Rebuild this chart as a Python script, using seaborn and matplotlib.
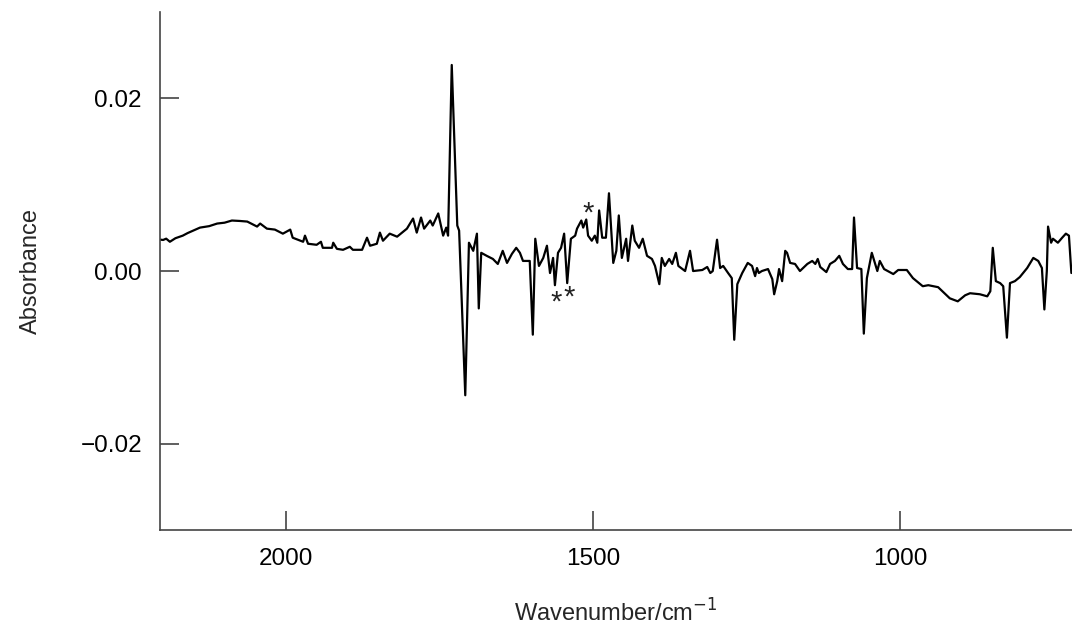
import matplotlib
matplotlib.use("Agg")
import matplotlib.pyplot as plt
import seaborn as sns
import pandas as pd

wavenumber = [2204, 2200, 2195, 2189, 2180, 2168, 2160, 2151, 2140, 2125, 2112, 2100, 2088, 2075,
              2063, 2047, 2042, 2031, 2018, 2005,
              1993, 1989, 1972, 1969, 1964, 1950, 1943, 1940, 1925, 1923, 1917, 1907, 1896, 1891,
              1876, 1868, 1863, 1852, 1847, 1842, 1831, 1819, 1803, 1793, 1787, 1780, 1775, 1765,
              1761, 1752, 1744, 1739, 1736, 1730, 1721, 1718, 1708, 1702, 1695, 1689, 1686, 1682,
              1673, 1663, 1655, 1647, 1640, 1632, 1625, 1619, 1614, 1603, 1598, 1594, 1588, 1581,
              1575, 1570, 1565, 1562, 1557, 1552, 1547, 1542, 1536, 1529, 1526, 1519, 1516, 1511,
              1508, 1502, 1497, 1493, 1490, 1485, 1479, 1474, 1467, 1462, 1458, 1453, 1446, 1443,
              1436, 1432, 1425, 1419, 1412, 1404, 1399, 1392, 1388, 1383, 1376, 1371, 1365, 1361,
              1350, 1342, 1337, 1322, 1314, 1309, 1305, 1298, 1293, 1288, 1280, 1274, 1270, 1265,
              1257, 1248, 1241, 1236, 1233, 1230, 1225, 1215, 1208, 1205, 1200, 1197, 1192, 1187,
              1184, 1179, 1171, 1163, 1151, 1143, 1138, 1134, 1130, 1120, 1114, 1106, 1099, 1093,
              1085, 1078, 1075, 1070, 1063, 1059, 1054, 1046, 1041, 1037, 1033, 1026, 1011, 1003,
              989, 979, 963, 954, 938, 919, 906, 894, 886, 870, 858, 853, 849, 844, 837, 832, 826,
              821, 813, 805, 793, 783, 775, 769, 765, 761, 759, 754, 751, 743, 736, 730, 725, 721]

absorbance = [0.00363, 0.0036, 0.00375, 0.00339, 0.0038, 0.0041, 0.0044, 0.00468, 0.00503, 0.0052,
              0.0055, 0.0056, 0.00585, 0.0058, 0.00573, 0.00515,
              0.0055, 0.00491, 0.0048, 0.00433, 0.0048, 0.00386, 0.00339, 0.0041, 0.00316, 0.00304,
              0.00339, 0.00269, 0.00269, 0.00328, 0.00257, 0.00246, 0.00281, 0.00246, 0.00246,
              0.00386, 0.00293, 0.00316, 0.00445, 0.00351, 0.00433, 0.00398, 0.00491, 0.00608,
              0.00445, 0.0062, 0.00491, 0.00585, 0.00527, 0.00667, 0.0041, 0.00503, 0.0041,
              0.02387, 0.00527, 0.00468, -0.01439, 0.00328, 0.00234, 0.00433, -0.00433, 0.00211,
              0.00176, 0.0014, 0.00082, 0.00234, 0.00094, 0.00199, 0.00269, 0.00211, 0.00117,
              0.00117, -0.00737, 0.00374, 0.00059, 0.00152, 0.00293, -0.00023, 0.00152, -0.00164,
              0.00211, 0.00269, 0.00433, -0.0014, 0.00374, 0.0041, 0.00491, 0.00585, 0.00503,
              0.00597, 0.0041, 0.00351, 0.0041, 0.00328, 0.00702, 0.00386, 0.00386, 0.00901,
              0.00094, 0.00234, 0.00644, 0.00152, 0.00374, 0.00117, 0.00527, 0.00351, 0.00269,
              0.00374, 0.00176, 0.0014, 0.00059, -0.00152, 0.00152, 0.00059, 0.0014, 0.00082,
              0.00211, 0.00059, 0.0, 0.00234, 0.0, 0.00012, 0.00047, -0.00023, 0.0, 0.00363,
              0.00035, 0.00059, -0.00023, -0.00082, -0.00796, -0.00152, -0.00023, 0.00094,
              0.00059, -0.00059, 0.00035, -0.00023, 0.0, 0.00023, -0.00094, -0.00269, -0.00117,
              0.00023, -0.00117, 0.00234, 0.00211, 0.00094, 0.00082, 0.0, 0.00082, 0.00117,
              0.00082, 0.0014, 0.00047, -0.00012, 0.00082, 0.00117, 0.00176, 0.00082, 0.00023,
              0.00023, 0.0062, 0.00035, 0.00023, -0.00725, -0.00082, 0.00211, 0.00094, 0.0,
              0.00117, 0.00023, -0.00035, 0.00012, 0.00012, -0.00082, -0.00176, -0.00164,
              -0.00187, -0.00316, -0.00351, -0.00281, -0.00257, -0.00269, -0.00293, -0.00234,
              0.00269, -0.00117, -0.0014, -0.00176, -0.00772, -0.0014, -0.00117, -0.0007,
              0.00035, 0.00152, 0.00117, 0.00035, -0.00445, 0.0, 0.00515, 0.00328, 0.00374,
              0.00328, 0.00386, 0.00433, 0.0041, -0.00023]

marker_wn = [1560, 1539, 1508]
marker_ab = [-0.0036, -0.0031, 0.0066]
marker_text = ["*", "*", "*"]

x_ticks = [2000, 1500, 1000]
y_ticks = [-0.02, 0.00, 0.02]
y_tick_labels = ["\u22120.02", "0.00", "0.02"]

sns.set_theme(style="ticks")
plt.rcParams["font.family"] = ["Liberation Sans", "DejaVu Sans"]

df = pd.DataFrame({"Wavenumber": wavenumber, "Absorbance": absorbance})

fig = plt.figure(figsize=(10.72, 6.34), dpi=100)
ax = fig.add_axes([0.1493, 0.164, 0.8507, 0.817])
sns.lineplot(data=df, x="Wavenumber", y="Absorbance", sort=False, estimator=None,
             color="black", linewidth=1.6, ax=ax)

for w, a, t in zip(marker_wn, marker_ab, marker_text):
    ax.text(w, a, t, ha="center", va="center", fontsize=21, color="#222222")

ax.set_xlim(2205, 720)
ax.set_ylim(-0.03, 0.03)
ax.set_xticks(x_ticks)
ax.set_xticklabels([str(v) for v in x_ticks])
ax.set_yticks(y_ticks)
ax.set_yticklabels(y_tick_labels)

for s in ["top", "right"]:
    ax.spines[s].set_visible(False)
for s in ["left", "bottom"]:
    ax.spines[s].set_color("#444444")
    ax.spines[s].set_linewidth(1.2)

ax.tick_params(axis="both", direction="in", length=14, width=1.2, color="#444444",
               labelsize=17.5, pad=13, labelcolor="black")
ax.set_xlabel("Wavenumber/cm$^{-1}$", fontsize=17, labelpad=21)
ax.set_ylabel("Absorbance", fontsize=17, labelpad=28)

fig.savefig("out.png", dpi=100)
